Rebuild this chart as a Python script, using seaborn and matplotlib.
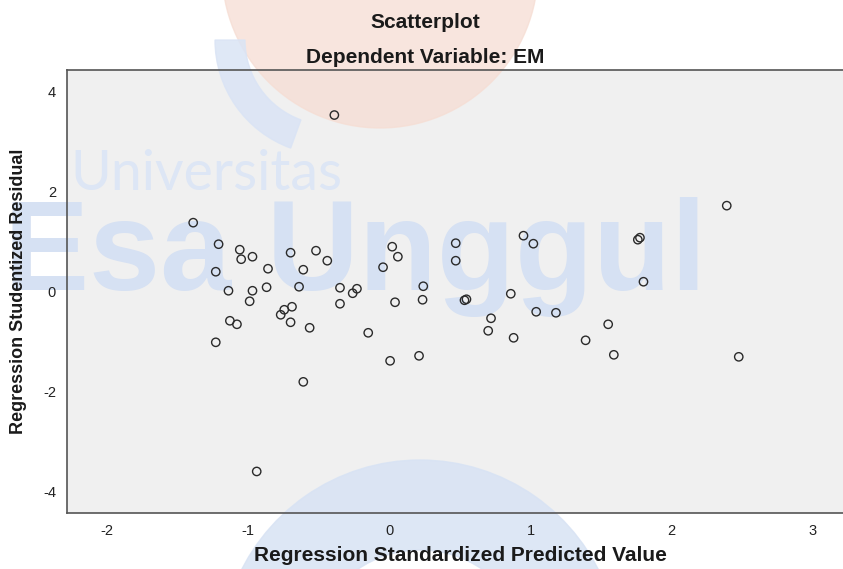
import numpy as np
import pandas as pd
import seaborn as sns
import matplotlib.pyplot as plt
from matplotlib.patches import Circle, Wedge
from matplotlib.transforms import IdentityTransform

# values
pred = [-0.39, -1.39, -1.21, -1.06, -1.05, -0.97, -0.70, -0.52, -0.44, -1.23,
        -0.86, -0.61, -1.14, -0.97, -0.87, -0.64, -0.35, -0.23, -0.26, -0.99,
        -0.745, -0.69, -0.77, -0.35, -1.13, -1.08, -0.70, -0.565, -1.23, -0.61,
        -0.94, 0.95, 1.02, 0.02, 0.06, -0.045, 0.47, 0.47, 0.24, 0.86,
        0.532, 0.546, 0.04, 0.235, 1.04, 1.18, 0.72, 0.70, 0.88, -0.15,
        0.005, 0.21, 1.55, 1.39, 1.59, 2.39, 1.775, 1.76, 1.80, 2.475]
resid = [3.52, 1.37, 0.94, 0.83, 0.64, 0.69, 0.77, 0.81, 0.61, 0.39,
         0.45, 0.43, 0.01, 0.01, 0.08, 0.09, 0.07, 0.05, -0.04, -0.20,
         -0.37, -0.31, -0.47, -0.25, -0.59, -0.66, -0.62, -0.73, -1.02, -1.81,
         -3.60, 1.11, 0.95, 0.89, 0.69, 0.48, 0.96, 0.61, 0.10, -0.05,
         -0.18, -0.16, -0.22, -0.17, -0.41, -0.43, -0.54, -0.79, -0.93, -0.83,
         -1.39, -1.29, -0.66, -0.98, -1.27, 1.71, 1.07, 1.03, 0.19, -1.31]
xticks = [-2, -1, 0, 1, 2, 3]
yticks = [-4, -2, 0, 2, 4]

df = pd.DataFrame({"pred": pred, "resid": resid})

sns.set_style("white")
plt.rcParams['font.family'] = ['Liberation Sans', 'DejaVu Sans']
plt.rcParams['axes.unicode_minus'] = False

W, H = 843, 569
fig = plt.figure(figsize=(W / 100, H / 100), dpi=100)
ax = fig.add_axes([67 / W, 1 - 513 / H, 0.935, 443 / H])
ax.set_facecolor('#F0F0F0')

# watermark of the source (pixel coords, kept under axis text and points)
def px(x, y):
    return (x, H - y)

tr = IdentityTransform()
wm = dict(transform=tr, zorder=0.2, clip_on=False)
ax.add_patch(Circle(px(380, -30), 158, color='#F6DDD3', alpha=0.75, **wm))
ax.add_patch(Wedge(px(420, 660), 200, 20, 160, width=90, color='#D8E3F4', alpha=0.85, **wm))
ax.add_patch(Wedge(px(330, 40), 115, 180, 250, width=30, color='#DAE4F5', alpha=0.85, **wm))
ax.text(70, H - 190, "Universitas", fontsize=40, family='Lato', fontweight='normal',
        color='#DDE6F5', **wm)
ax.text(4, H - 290, "Esa Unggul", fontsize=92, fontweight='bold',
        color='#D6E1F3', **wm)

sns.scatterplot(data=df, x="pred", y="resid", ax=ax, marker='o', s=36,
                facecolor='none', edgecolor='#2a2a2a', linewidth=1.0, zorder=3)

ax.set_xlim(-2.284, 3.30)
ax.set_ylim(-4.43, 4.42)
ax.set_xticks(xticks)
ax.set_yticks(yticks)
ax.tick_params(direction='out', length=5, width=1, color='#444444',
               labelsize=10.5, labelcolor='#222222', pad=3)
for s in ['left', 'bottom', 'top']:
    ax.spines[s].set_color('#555555')
    ax.spines[s].set_linewidth(1.2)
ax.spines['right'].set_visible(False)

ax.set_xlabel("Regression Standardized Predicted Value", fontsize=15,
              fontweight='bold', color='#1a1a1a')
ax.set_ylabel("Regression Studentized Residual", fontsize=13,
              fontweight='bold', color='#1a1a1a')
ax.xaxis.set_label_coords((460 - 67) / 788, (513 - 546) / 443)
ax.yaxis.set_label_coords((27 - 67) / 788, 0.5)

fig.text(425 / W, 1 - 23 / H, "Scatterplot", ha='center', va='center',
         fontsize=15, fontweight='bold', color='#1a1a1a')
fig.text(425 / W, 1 - 57 / H, "Dependent Variable: EM", ha='center', va='center',
         fontsize=15, fontweight='bold', color='#1a1a1a')

plt.savefig('out.png', dpi=100)
